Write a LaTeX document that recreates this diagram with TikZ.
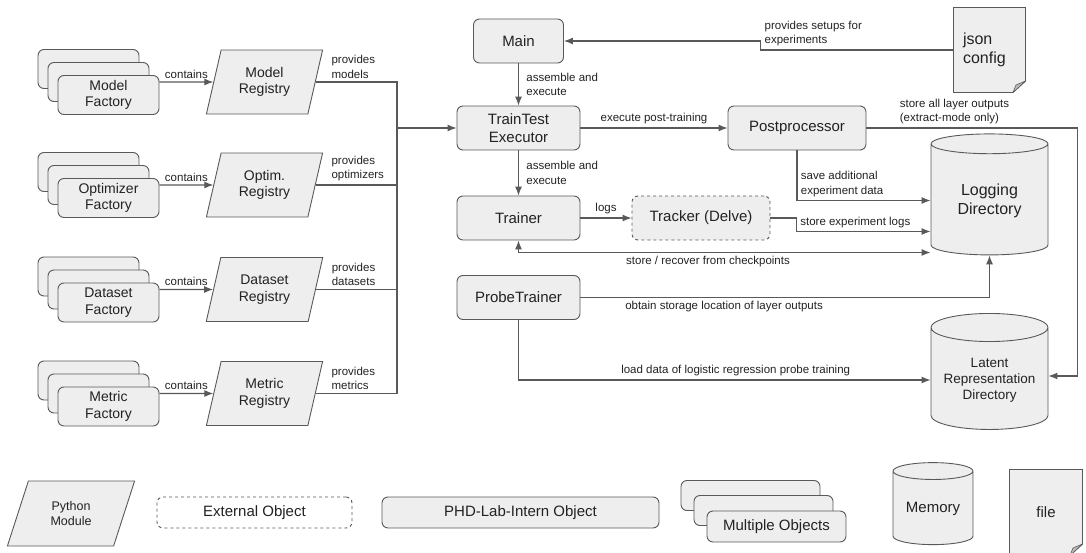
\documentclass[tikz,border=0pt]{standalone}
\usepackage{fontspec}
\setmainfont{Liberation Sans}
\usetikzlibrary{arrows.meta,shapes.geometric,positioning}

\definecolor{boxfill}{HTML}{EEEEEE}
\definecolor{linegray}{HTML}{595959}
\definecolor{foldgray}{HTML}{BDBDBD}
\definecolor{textgray}{HTML}{222222}

\newcommand\boxfont{\fontsize{15}{18}\selectfont}
\newcommand\modfont{\fontsize{14}{16.5}\selectfont}
\newcommand\lblfont{\fontsize{11.5}{14.5}\selectfont}

\tikzset{
  obj/.style={draw=linegray, fill=boxfill, rounded corners=6pt, line width=0.9pt,
    align=center, inner sep=2pt, text=textgray, font=\boxfont},
  ext/.style={obj, dashed},
  factory/.style={obj, font=\modfont, minimum width=101, minimum height=39},
  module/.style={trapezium, trapezium left angle=74, trapezium right angle=106,
    trapezium stretches, draw=linegray, fill=boxfill, line width=0.9pt, inner sep=1pt,
    align=center, text=textgray, font=\modfont, minimum width=117, minimum height=64},
  store/.style={cylinder, shape border rotate=90, aspect=0.3, draw=linegray,
    fill=boxfill, line width=0.9pt, align=center, text=textgray, inner sep=1pt},
  % sheet with a folded corner at the lower right
  doc/.style={fill=white, inner sep=2pt, text=textgray, font=\boxfont,
    path picture={
      \filldraw[fill=boxfill, draw=linegray, line width=0.9pt]
        ([shift={(0.5pt,-0.5pt)}]path picture bounding box.north west)
        -- ([shift={(-0.5pt,-0.5pt)}]path picture bounding box.north east)
        -- ([shift={(-0.5pt,12pt)}]path picture bounding box.south east)
        -- ([shift={(-13pt,0.5pt)}]path picture bounding box.south east)
        -- ([shift={(0.5pt,0.5pt)}]path picture bounding box.south west) -- cycle;
      \filldraw[fill=foldgray, draw=linegray, line width=0.6pt]
        ([shift={(-0.5pt,12pt)}]path picture bounding box.south east)
        -- ([shift={(-13pt,0.5pt)}]path picture bounding box.south east)
        -- ([shift={(-10pt,8pt)}]path picture bounding box.south east) -- cycle;}},
  line/.style={draw=linegray, line width=1.1pt},
  flow/.style={line, -{Latex[length=9pt, width=7pt]}},
  lbl/.style={font=\lblfont, text=textgray, align=left}
}

\begin{document}
\begin{tikzpicture}[x=1pt, y=-1pt]
\useasboundingbox (0,0) rectangle (1086,553);

% factories and their registries
\node[factory] (modelB) at (88.5,69) {};
\node[factory] (modelM) at (98.5,82) {};
\node[factory] (modelF) at (108.5,95) {Model\\Factory};
\node[module] (modelR) at (264.5,82) {Model\\Registry};

\node[factory] (optimB) at (88.5,172) {};
\node[factory] (optimM) at (98.5,185) {};
\node[factory] (optimF) at (108.5,198) {Optimizer\\Factory};
\node[module] (optimR) at (264.5,185) {Optim.\\Registry};

\node[factory] (dataB) at (88.5,276.5) {};
\node[factory] (dataM) at (98.5,289.5) {};
\node[factory] (dataF) at (108.5,302.5) {Dataset\\Factory};
\node[module] (dataR) at (264.5,289.5) {Dataset\\Registry};

\node[factory] (metricB) at (88.5,380.5) {};
\node[factory] (metricM) at (98.5,393.5) {};
\node[factory] (metricF) at (108.5,406.5) {Metric\\Factory};
\node[module] (metricR) at (264.5,393.5) {Metric\\Registry};

\draw[flow] (modelF.east |- modelR) -- node[lbl, above] {contains} (modelR);
\draw[flow] (optimF.east |- optimR) -- node[lbl, above] {contains} (optimR);
\draw[flow] (dataF.east |- dataR) -- node[lbl, above] {contains} (dataR);
\draw[flow] (metricF.east |- metricR) -- node[lbl, above] {contains} (metricR);

% main modules
\node[obj, minimum width=90, minimum height=44] (main) at (518.5,41) {Main};
\node[obj, minimum width=123, minimum height=44] (exec) at (518.5,128) {TrainTest\\Executor};
\node[obj, minimum width=138, minimum height=44] (post) at (797,128) {Postprocessor};
\node[obj, minimum width=123, minimum height=44] (trainer) at (518.5,218) {Trainer};
\node[ext, minimum width=138, minimum height=44] (tracker) at (701,218) {Tracker (Delve)};
\node[obj, minimum width=123, minimum height=44] (probe) at (518.5,297.5) {ProbeTrainer};

\node[doc, minimum width=73, minimum height=86, text width=53, align=left,
  font=\fontsize{16}{18.5}\selectfont] (json) at (989.5,50) {json\\config};
\node[store, minimum width=117, minimum height=121,
  font=\fontsize{16}{19}\selectfont] (logdir) at (989.5,200.5) {Logging\\Directory};
\node[store, minimum width=117, minimum height=116,
  font=\fontsize{13.5}{16}\selectfont] (latent) at (989.5,380) {Latent\\Representation\\Directory};

% registries into the executor
\coordinate (bus) at (397,128);
\draw[line] (modelR) -| node[lbl, pos=0, above right, xshift=12pt] {provides\\models} (bus);
\draw[line] (optimR) -| node[lbl, pos=0, above right, xshift=12pt] {provides\\optimizers} (bus);
\draw[line] (dataR) -| node[lbl, pos=0, above right, xshift=12pt] {provides\\datasets} (bus);
\draw[line] (metricR) -| node[lbl, pos=0, above right, xshift=12pt] {provides\\metrics} (bus);
\draw[flow] (bus) -- (exec);

\draw[flow] (json.west) -- ++(-192,0) node[lbl, above right] {provides setups for\\experiments} |- (main);
\draw[flow] (main) -- node[lbl, right, xshift=4pt] {assemble and\\execute} (exec);
\draw[flow] (exec) -- node[lbl, above] {execute post-training} (post);
\draw[flow] (exec) -- node[lbl, right, xshift=4pt] {assemble and\\execute} (trainer);
\draw[flow] (trainer) -- node[lbl, above] {logs} (tracker);
\draw[flow] (post) |- node[lbl, pos=0.5, above right] {save additional\\experiment data} (logdir);
\draw[flow] (tracker.east) -- ++(26,0) |- node[lbl, pos=0.5, above right] {store experiment logs} ([yshift=-31pt]logdir.west);
\draw[line, {Latex[length=9pt, width=7pt]}-{Latex[length=9pt, width=7pt]}] (trainer) |- node[lbl, pos=0.73, below] {store / recover from checkpoints} ([yshift=-52pt]logdir.west);
\draw[flow] (probe) -| node[lbl, pos=0.05, below right] {obtain storage location of layer outputs} (logdir);
\draw[flow] (probe) |- node[lbl, pos=0.62, above right] {load data of logistic regression probe training} (latent);
\draw[flow] (post.east) -- node[lbl, pos=0.14, above right] {store all layer outputs\\(extract-mode only)} ++(211,0) |- ([yshift=4pt]latent.east);

% legend
\node[module, trapezium left angle=68, trapezium right angle=112, minimum width=128,
  minimum height=65, font=\fontsize{12.5}{15}\selectfont] (pymod) at (71,513.5) {Python\\Module};
\node[ext, fill=white, minimum width=195, minimum height=31] (extleg) at (254.5,512.5) {External Object};
\node[obj, minimum width=277, minimum height=31] (intern) at (520.5,512.5) {PHD-Lab-Intern Object};
\node[obj, minimum width=139, minimum height=30] (multiB) at (750.5,495.5) {};
\node[obj, minimum width=139, minimum height=30] (multiM) at (763.5,510.5) {};
\node[obj, minimum width=139, minimum height=31] (multiF) at (776.5,526.5) {Multiple Objects};
\node[store, minimum width=80, minimum height=82, font=\boxfont] (memory) at (933,509) {Memory};
\node[doc, minimum width=74, minimum height=87] (fileleg) at (1046,512.5) {file};
\end{tikzpicture}
\end{document}
